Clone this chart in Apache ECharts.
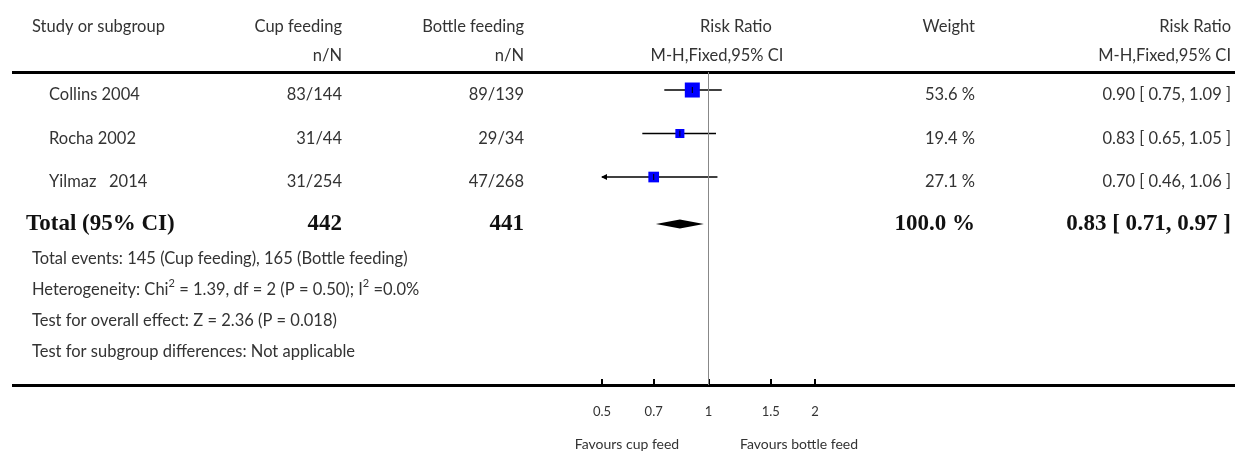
<!DOCTYPE html>
<html><head><meta charset="utf-8">
<script src="https://cdn.jsdelivr.net/npm/echarts@6/dist/echarts.min.js"></script>
<style>html,body{margin:0;padding:0;background:#fff}#c{width:1235px;height:452px}</style>
</head><body><div id="c"></div>
<script>
// ---- data ----
const studies = ['Collins 2004', 'Rocha 2002', 'Yilmaz   2014'];
const cupEvents = ['83/144', '31/44', '31/254'];
const bottleEvents = ['89/139', '29/34', '47/268'];
const weights = [53.6, 19.4, 27.1];
const rr = [0.90, 0.83, 0.70];
const ciLow = [0.75, 0.65, 0.46];
const ciHigh = [1.09, 1.05, 1.06];
const totalLabel = 'Total (95% CI)';
const totalCup = '442';
const totalBottle = '441';
const totalWeight = 100.0;
const totalRR = [0.83, 0.71, 0.97];
const tickValues = [0.5, 0.7, 1, 1.5, 2];
const tickLabels = ['0.5', '0.7', '1', '1.5', '2'];
const footnotes = [
  'Total events: 145 (Cup feeding), 165 (Bottle feeding)',
  'Heterogeneity: Chi{sup|2} = 1.39, df = 2 (P = 0.50); I{sup|2} =0.0%',
  'Test for overall effect: Z = 2.36 (P = 0.018)',
  'Test for subgroup differences: Not applicable'
];
const favours = ['Favours cup feed', 'Favours bottle feed'];

// ---- layout ----
const SANS = 'Lato';
const SERIF = '"Liberation Serif"';
const TXT = '#333';
const FS = 16.5;
const AXMIN = 0.5, AXMAX = 2;
const totalRow = 3.08;
const LEFT = 32;
const fmt = v => v.toFixed(2);

const rowsText = [];
studies.forEach((s, i) => {
  rowsText.push([49, i, s, 'left', 0]);
  rowsText.push([342, i, cupEvents[i], 'right', 0]);
  rowsText.push([524, i, bottleEvents[i], 'right', 0]);
  rowsText.push([975, i, weights[i].toFixed(1) + ' %', 'right', 0]);
  rowsText.push([1231, i, fmt(rr[i]) + ' [ ' + fmt(ciLow[i]) + ', ' + fmt(ciHigh[i]) + ' ]', 'right', 0]);
});
rowsText.push([26, totalRow, totalLabel, 'left', 1]);
rowsText.push([342, totalRow, totalCup, 'right', 1]);
rowsText.push([524, totalRow, totalBottle, 'right', 1]);
rowsText.push([975, totalRow, totalWeight.toFixed(1) + ' %', 'right', 1]);
rowsText.push([1231, totalRow, fmt(totalRR[0]) + ' [ ' + fmt(totalRR[1]) + ', ' + fmt(totalRR[2]) + ' ]', 'right', 1]);

const studyData = studies.map((s, i) => [rr[i], ciLow[i], ciHigh[i], i, weights[i]]);

const chart = echarts.init(document.getElementById('c'), null, {renderer: 'canvas'});
const headerY1 = 27, headerY2 = 56;
function t(x, y, text, align, size) {
  return {type: 'text', x: x, y: y, style: {text: text, align: align, verticalAlign: 'middle',
    fontSize: size || FS, fontFamily: SANS, fill: TXT,
    rich: {sup: {fontSize: 11, fontFamily: SANS, fill: TXT, lineHeight: 11, padding: [0, 0, 14, 0]}}}};
}
const graphics = [
  t(LEFT, headerY1, 'Study or subgroup', 'left'),
  t(342, headerY1, 'Cup feeding', 'right'),
  t(524, headerY1, 'Bottle feeding', 'right'),
  t(736, headerY1, 'Risk Ratio', 'center'),
  t(975, headerY1, 'Weight', 'right'),
  t(1231, headerY1, 'Risk Ratio', 'right'),
  t(342, headerY2, 'n/N', 'right'),
  t(524, headerY2, 'n/N', 'right'),
  t(717, headerY2, 'M-H,Fixed,95% CI', 'center'),
  t(1231, headerY2, 'M-H,Fixed,95% CI', 'right'),
  {type: 'rect', shape: {x: 12, y: 71, width: 1223, height: 3}, style: {fill: '#000'}},
  {type: 'rect', shape: {x: 12, y: 384, width: 1223, height: 3}, style: {fill: '#000'}}
];
footnotes.forEach((f, i) => graphics.push(t(LEFT, 259 + i * 31, f, 'left')));
graphics.push(t(627, 444, favours[0], 'center', 14));
graphics.push(t(799, 444, favours[1], 'center', 14));

const yRange = {min: -0.414, max: 6.78};

chart.setOption({
  animation: false,
  grid: [
    {left: 602, width: 213, top: 72, height: 313},
    {left: 0, width: 1235, top: 72, height: 313}
  ],
  xAxis: [
    {type: 'log', gridIndex: 0, logBase: 10, min: AXMIN, max: AXMAX, position: 'bottom',
     axisLine: {show: false, onZero: false},
     axisTick: {show: true, inside: true, length: 6, customValues: tickValues, lineStyle: {color: '#000', width: 2}},
     axisLabel: {show: true, customValues: tickValues, margin: 20, fontSize: 13, fontFamily: SANS, color: '#333',
       formatter: v => { const k = tickValues.findIndex(x => Math.abs(x - v) < 1e-6); return k >= 0 ? tickLabels[k] : ''; }},
     splitLine: {show: false}, minorTick: {show: false}},
    {type: 'value', gridIndex: 1, min: 0, max: 1235, show: false}
  ],
  yAxis: [
    Object.assign({type: 'value', gridIndex: 0, inverse: true, show: false}, yRange),
    Object.assign({type: 'value', gridIndex: 1, inverse: true, show: false}, yRange)
  ],
  graphic: graphics,
  series: [
    {
      type: 'custom', xAxisIndex: 1, yAxisIndex: 1, clip: false, silent: true,
      data: rowsText,
      renderItem: (params, api) => {
        const d = rowsText[params.dataIndex];
        const p = api.coord([d[0], d[1]]);
        return {type: 'text', x: p[0], y: p[1] + (d[4] ? 0 : 5), style: {
          text: d[2], align: d[3], verticalAlign: 'middle',
          font: d[4] ? 'bold 23px ' + SERIF : FS + 'px ' + SANS, fill: d[4] ? '#111' : TXT}};
      }
    },
    {
      type: 'custom', xAxisIndex: 0, yAxisIndex: 0, clip: false, silent: true,
      data: studyData,
      renderItem: (params, api) => {
        const d = studyData[params.dataIndex];
        const lo = Math.max(d[1], AXMIN), hi = Math.min(d[2], AXMAX);
        const p1 = api.coord([lo, d[3]]), p2 = api.coord([hi, d[3]]), c = api.coord([d[0], d[3]]);
        const s = 2.05 * Math.sqrt(d[4]);
        const children = [
          {type: 'line', shape: {x1: p1[0], y1: p1[1], x2: p2[0], y2: p2[1]}, style: {stroke: '#000', lineWidth: 1.5}},
          {type: 'rect', shape: {x: c[0] - s / 2, y: c[1] - s / 2, width: s, height: s}, style: {fill: '#0000ff'}},
          {type: 'line', shape: {x1: c[0], y1: c[1] - 3, x2: c[0], y2: c[1] + 3}, style: {stroke: '#000', lineWidth: 1}}
        ];
        if (d[1] < AXMIN) {
          children.push({type: 'polygon', shape: {points: [[p1[0] - 1, p1[1]], [p1[0] + 5, p1[1] - 3], [p1[0] + 5, p1[1] + 3]]}, style: {fill: '#000'}});
        }
        return {type: 'group', children: children};
      }
    },
    {
      type: 'custom', xAxisIndex: 0, yAxisIndex: 0, clip: false, silent: true,
      data: [[totalRR[0], totalRR[1], totalRR[2], totalRow]],
      renderItem: (params, api) => {
        const c = api.coord([totalRR[0], totalRow]);
        const l = api.coord([totalRR[1], totalRow]);
        const r = api.coord([totalRR[2], totalRow]);
        const h = 4.5;
        return {type: 'polygon', shape: {points: [[l[0], l[1]], [c[0], c[1] - h], [r[0], r[1]], [c[0], c[1] + h]]}, style: {fill: '#000'}};
      },
      markLine: {silent: true, symbol: 'none', label: {show: false}, lineStyle: {color: '#888', width: 1, type: 'solid'},
        data: [{xAxis: 1}]}
    }
  ]
});
</script></body></html>
